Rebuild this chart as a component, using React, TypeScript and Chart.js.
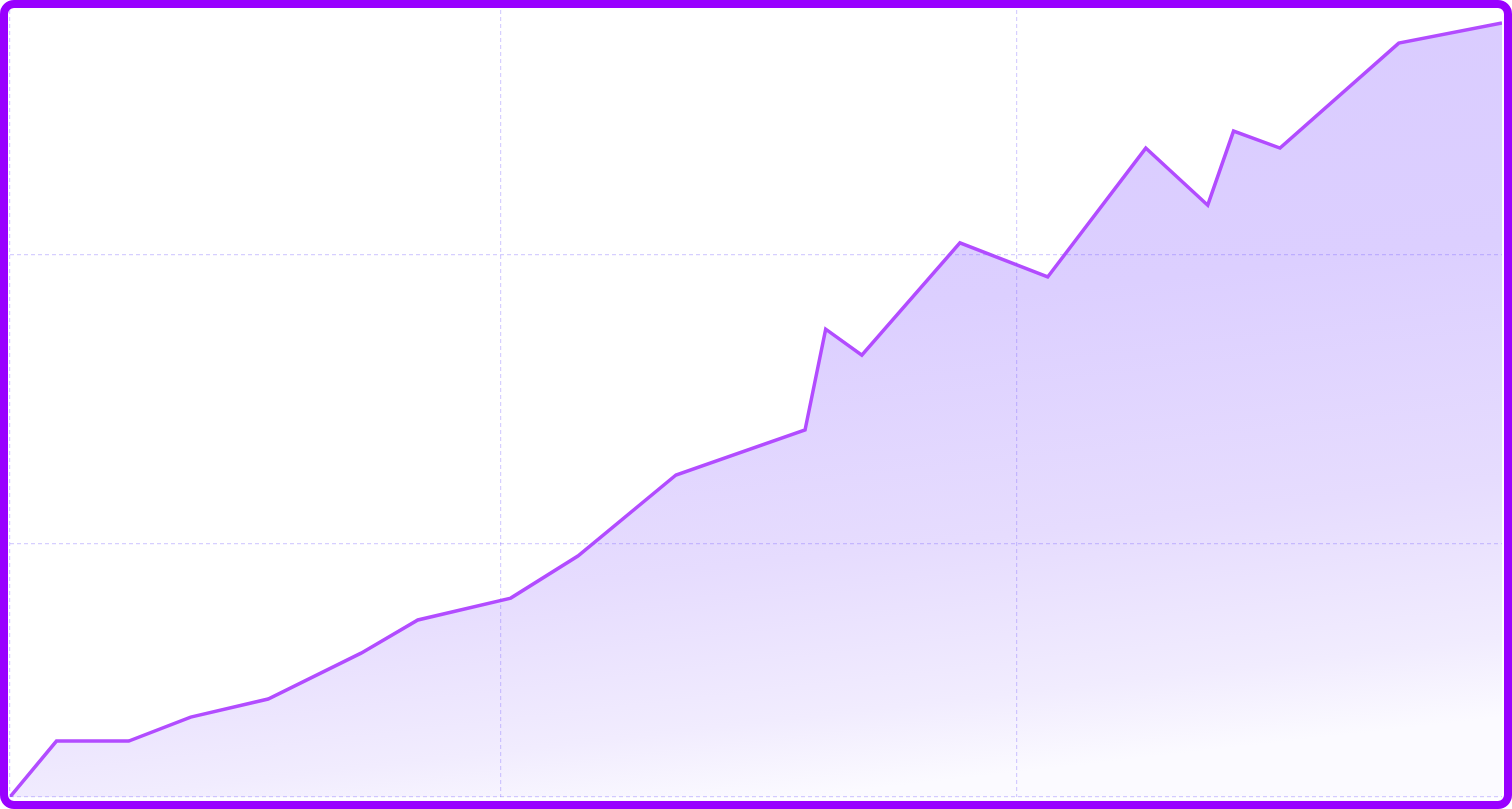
import React, { useEffect, useRef } from 'react';
import { Chart, registerables } from 'chart.js';

Chart.register(...registerables);

// Series (x in arbitrary units, y in arbitrary units)
const xValues = [0.5, 1.4, 2.8, 4.0, 5.5, 7.3, 8.4, 10.2, 11.5, 13.4, 15.9, 16.3, 17.0, 18.9, 20.6, 22.5, 23.7, 24.2, 25.1, 27.4, 29.4];
const yValues = [12, 31.4, 31.4, 39.7, 46.0, 61.9, 73.4, 81.0, 95.6, 123.7, 139.3, 174.3, 165.3, 204.2, 192.4, 237.1, 217.3, 243.0, 237.1, 273.5, 280.5];

// Axis ranges and grid tick positions
const xRange = [0.5, 29.4];
const yRange = [12, 285];
const xTicks = [0.5, 10, 20];
const yTicks = [12, 100, 200];

const LINE_COLOR = '#b24cff';
const GRID_COLOR = 'rgba(120, 95, 255, 0.3)';

const App: React.FC = () => {
  const canvasRef = useRef<HTMLCanvasElement>(null);

  useEffect(() => {
    if (!canvasRef.current) return;
    const chart = new Chart(canvasRef.current, {
      type: 'line',
      data: {
        datasets: [
          {
            data: xValues.map((x, i) => ({ x, y: yValues[i] })),
            borderColor: LINE_COLOR,
            borderWidth: 3.5,
            borderJoinStyle: 'miter',
            tension: 0,
            pointRadius: 0,
            fill: 'start',
            backgroundColor: (ctx: any) => {
              const area = ctx.chart.chartArea;
              if (!area) return 'rgba(220, 207, 255, 1)';
              const w = area.right - area.left;
              const g = ctx.chart.ctx.createLinearGradient(
                area.left + w * 0.47, area.top,
                area.left + w * 0.53, area.bottom
              );
              g.addColorStop(0, '#d9cbff');
              g.addColorStop(0.4, '#dccfff');
              g.addColorStop(0.7, '#e6dcfe');
              g.addColorStop(0.9, '#f1ecfe');
              g.addColorStop(1, '#fbfaff');
              return g;
            },
          },
        ],
      },
      options: {
        animation: false,
        responsive: true,
        maintainAspectRatio: false,
        layout: { padding: { left: 2, top: 2, right: 2, bottom: 4 } },
        plugins: { legend: { display: false }, tooltip: { enabled: false } },
        scales: {
          x: {
            type: 'linear',
            min: xRange[0],
            max: xRange[1],
            afterBuildTicks: (axis: any) => {
              axis.ticks = xTicks.map(v => ({ value: v }));
            },
            ticks: { display: false },
            // draw the dashed grid over the filled area
            grid: { color: GRID_COLOR, lineWidth: 1.2, drawTicks: false, z: 1 },
            border: { display: false, dash: [4, 3] },
          },
          y: {
            type: 'linear',
            min: yRange[0],
            max: yRange[1],
            afterBuildTicks: (axis: any) => {
              axis.ticks = yTicks.map(v => ({ value: v }));
            },
            ticks: { display: false },
            grid: { color: GRID_COLOR, lineWidth: 1.2, drawTicks: false, z: 1 },
            border: { display: false, dash: [4, 3] },
          },
        },
      },
    });
    return () => chart.destroy();
  }, []);

  return (
    <div
      style={{
        position: 'fixed',
        left: 0,
        top: 0,
        width: 1512,
        height: 809,
        boxSizing: 'border-box',
        border: '8px solid #9900ff',
        borderRadius: 14,
        background: '#fff',
        overflow: 'hidden',
      }}
    >
      <div style={{ position: 'relative', width: '100%', height: '100%' }}>
        <canvas ref={canvasRef}></canvas>
      </div>
    </div>
  );
};

export default App;
